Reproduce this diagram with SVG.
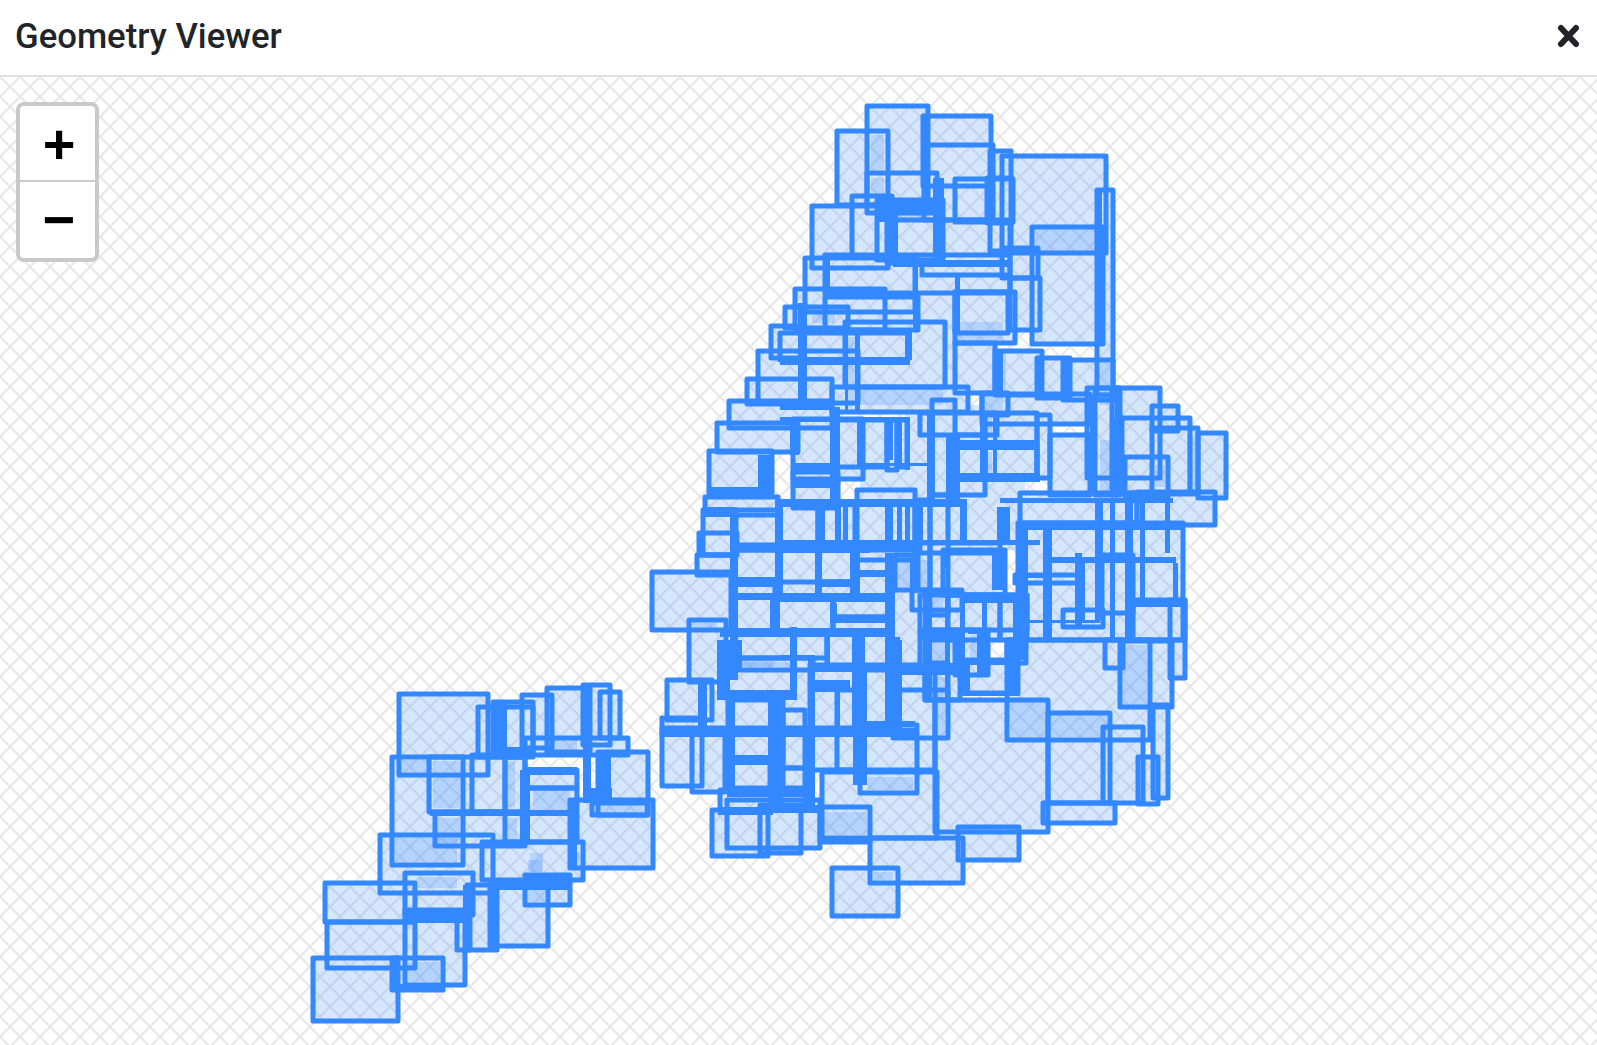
<svg xmlns="http://www.w3.org/2000/svg" width="1597" height="1045" viewBox="0 0 1597 1045">
<style>
.t{font-family:Roboto,"Liberation Sans",sans-serif;font-size:34.7px;font-weight:500;fill:#212529}
.z{font-family:"Liberation Sans",Arial,sans-serif;font-size:56px;font-weight:700;fill:#000;text-anchor:middle}
.o{fill:#3388ff;fill-opacity:.2}
</style>
<defs>
<pattern id="hatch" width="20" height="20" patternUnits="userSpaceOnUse" patternTransform="translate(0 76.7)">
<path d="M-2,-2L22,22M22,-2L-2,22" stroke="#e6e6e6" stroke-width="2" fill="none"/>
</pattern>
<g id="rects">
<rect x="867" y="106" width="61" height="99"/><rect x="837" y="131" width="51" height="74"/><rect x="923" y="116" width="68" height="70"/><rect x="924" y="145" width="69" height="75"/><rect x="990" y="151" width="21" height="100"/><rect x="1002" y="156" width="104" height="97"/><rect x="1097" y="190" width="16" height="205"/><rect x="1032" y="227" width="71" height="117"/><rect x="955" y="179" width="58" height="43"/><rect x="987" y="178" width="25" height="45"/><rect x="867" y="173" width="70" height="40"/><rect x="852" y="196" width="40" height="60"/><rect x="812" y="206" width="76" height="62"/><rect x="877" y="200" width="66" height="60"/><rect x="887" y="220" width="123" height="43"/><rect x="805" y="258" width="110" height="54"/><rect x="825" y="255" width="185" height="38"/><rect x="922" y="263" width="88" height="12"/><rect x="955" y="292" width="53" height="41"/><rect x="955" y="292" width="60" height="51"/><rect x="1002" y="248" width="36" height="30"/><rect x="1010" y="278" width="30" height="52"/><rect x="795" y="289" width="90" height="41"/><rect x="825" y="297" width="93" height="33"/><rect x="785" y="307" width="63" height="21"/><rect x="845" y="322" width="100" height="65"/><rect x="771" y="326" width="30" height="32"/><rect x="758" y="351" width="100" height="52"/><rect x="747" y="379" width="85" height="25"/><rect x="780" y="333" width="128" height="27"/><rect x="832" y="387" width="136" height="25"/><rect x="955" y="343" width="40" height="50"/><rect x="995" y="351" width="47" height="44"/><rect x="1037" y="358" width="33" height="40"/><rect x="1063" y="360" width="50" height="40"/><rect x="982" y="394" width="108" height="30"/><rect x="1087" y="388" width="73" height="90"/>
<rect x="729" y="401" width="103" height="27"/><rect x="717" y="423" width="81" height="29"/><rect x="709" y="451" width="63" height="44"/><rect x="705" y="497" width="73" height="13"/><rect x="793" y="419" width="70" height="60"/><rect x="836" y="420" width="51" height="47"/><rect x="887" y="420" width="10" height="50"/><rect x="897" y="420" width="10" height="47"/><rect x="793" y="472" width="45" height="11"/><rect x="793" y="483" width="45" height="25"/><rect x="920" y="413" width="77" height="22"/><rect x="932" y="400" width="23" height="95"/><rect x="955" y="435" width="30" height="60"/><rect x="982" y="393" width="26" height="22"/><rect x="985" y="413" width="52" height="65"/><rect x="985" y="443" width="52" height="35"/><rect x="1037" y="415" width="13" height="63"/><rect x="1050" y="435" width="40" height="60"/><rect x="1095" y="388" width="22" height="107"/><rect x="1112" y="388" width="8" height="107"/><rect x="1122" y="418" width="68" height="75"/><rect x="1152" y="406" width="26" height="25"/><rect x="1152" y="428" width="46" height="66"/><rect x="1198" y="433" width="28" height="65"/><rect x="1125" y="457" width="43" height="40"/><rect x="1137" y="492" width="78" height="33"/><rect x="1020" y="493" width="117" height="30"/><rect x="1018" y="523" width="165" height="117"/><rect x="1015" y="575" width="65" height="8"/><rect x="1133" y="600" width="52" height="40"/><rect x="1102" y="555" width="31" height="58"/><rect x="1063" y="610" width="40" height="17"/>
<rect x="652" y="572" width="79" height="58"/><rect x="689" y="620" width="37" height="62"/><rect x="697" y="555" width="38" height="20"/><rect x="699" y="533" width="38" height="22"/><rect x="703" y="510" width="33" height="45"/><rect x="733" y="515" width="47" height="65"/><rect x="780" y="503" width="38" height="47"/><rect x="780" y="550" width="75" height="32"/><rect x="733" y="582" width="42" height="15"/><rect x="775" y="597" width="58" height="35"/><rect x="833" y="597" width="57" height="20"/><rect x="833" y="617" width="57" height="15"/><rect x="818" y="503" width="37" height="47"/><rect x="857" y="490" width="58" height="70"/><rect x="733" y="545" width="182" height="5"/><rect x="733" y="550" width="47" height="32"/><rect x="818" y="550" width="37" height="32"/><rect x="818" y="582" width="37" height="15"/><rect x="733" y="632" width="60" height="26"/><rect x="793" y="632" width="34" height="26"/><rect x="827" y="632" width="33" height="36"/><rect x="860" y="632" width="30" height="38"/><rect x="895" y="555" width="23" height="35"/><rect x="912" y="590" width="50" height="20"/><rect x="915" y="500" width="15" height="90"/><rect x="930" y="495" width="18" height="120"/><rect x="943" y="550" width="62" height="45"/><rect x="920" y="543" width="80" height="10"/><rect x="920" y="595" width="107" height="35"/><rect x="948" y="595" width="52" height="45"/><rect x="1000" y="595" width="27" height="45"/><rect x="955" y="630" width="33" height="45"/><rect x="925" y="663" width="23" height="37"/><rect x="920" y="630" width="36" height="42"/><rect x="962" y="660" width="56" height="33"/><rect x="1007" y="640" width="19" height="23"/><rect x="925" y="640" width="35" height="60"/><rect x="735" y="658" width="78" height="12"/><rect x="810" y="665" width="125" height="105"/><rect x="837" y="690" width="20" height="80"/>
<rect x="667" y="680" width="45" height="40"/><rect x="662" y="718" width="40" height="68"/><rect x="692" y="730" width="33" height="62"/><rect x="720" y="790" width="85" height="20"/><rect x="712" y="810" width="56" height="46"/><rect x="760" y="805" width="41" height="48"/><rect x="727" y="800" width="93" height="48"/><rect x="820" y="807" width="50" height="35"/><rect x="870" y="838" width="93" height="45"/><rect x="832" y="868" width="66" height="48"/><rect x="860" y="725" width="57" height="68"/><rect x="822" y="772" width="115" height="66"/><rect x="893" y="690" width="55" height="48"/><rect x="728" y="700" width="55" height="60"/><rect x="728" y="760" width="42" height="28"/><rect x="783" y="710" width="22" height="58"/><rect x="783" y="768" width="22" height="20"/><rect x="662" y="728" width="235" height="6"/><rect x="935" y="700" width="113" height="132"/><rect x="1007" y="640" width="143" height="100"/><rect x="1048" y="713" width="62" height="90"/><rect x="1043" y="803" width="72" height="20"/><rect x="1103" y="727" width="40" height="76"/><rect x="1138" y="757" width="20" height="47"/><rect x="1153" y="705" width="15" height="93"/><rect x="1120" y="641" width="52" height="66"/><rect x="1105" y="640" width="18" height="28"/><rect x="1170" y="600" width="15" height="78"/><rect x="958" y="827" width="61" height="33"/>
<rect x="399" y="694" width="89" height="81"/><rect x="392" y="757" width="71" height="108"/><rect x="429" y="757" width="96" height="55"/><rect x="435" y="812" width="90" height="34"/><rect x="380" y="835" width="113" height="58"/><rect x="478" y="707" width="55" height="50"/><rect x="493" y="702" width="40" height="50"/><rect x="522" y="695" width="30" height="53"/><rect x="547" y="688" width="43" height="64"/><rect x="583" y="685" width="27" height="60"/><rect x="600" y="692" width="20" height="46"/><rect x="525" y="738" width="103" height="17"/><rect x="598" y="752" width="50" height="63"/><rect x="570" y="800" width="83" height="68"/><rect x="592" y="803" width="55" height="12"/><rect x="525" y="770" width="52" height="18"/><rect x="525" y="788" width="52" height="54"/><rect x="482" y="842" width="101" height="38"/><rect x="505" y="757" width="20" height="85"/><rect x="472" y="755" width="33" height="57"/><rect x="490" y="883" width="58" height="63"/><rect x="467" y="885" width="30" height="65"/><rect x="525" y="875" width="45" height="30"/><rect x="313" y="958" width="85" height="63"/><rect x="327" y="922" width="88" height="46"/><rect x="325" y="883" width="90" height="39"/><rect x="392" y="958" width="51" height="32"/><rect x="405" y="910" width="60" height="75"/><rect x="405" y="873" width="68" height="42"/><rect x="457" y="917" width="13" height="33"/>
</g>
</defs>
<rect width="1597" height="1045" fill="#fff"/>
<rect y="76" width="1597" height="969" fill="url(#hatch)"/>
<g id="header">
<rect y="0" width="1597" height="75" fill="#fff"/>
<rect y="75" width="1597" height="2" fill="#dee2e6"/>
<text class="t" x="15" y="48">Geometry Viewer</text>
<path d="M1561,28L1576,44M1576,28L1561,44" stroke="#212529" stroke-width="6" stroke-linecap="round" fill="none"/>
</g>
<g id="geometry">
<g fill="#3388ff" opacity=".2">
<use href="#rects"/>
<rect x="905" y="405" width="120" height="90"/><rect x="975" y="490" width="50" height="60"/><rect x="830" y="550" width="70" height="55"/><rect x="730" y="575" width="165" height="60"/><rect x="790" y="640" width="25" height="90"/><rect x="710" y="690" width="25" height="50"/><rect x="915" y="263" width="40" height="125"/><rect x="800" y="620" width="135" height="120"/><rect x="900" y="490" width="80" height="60"/><rect x="880" y="300" width="60" height="100"/><rect x="860" y="590" width="120" height="80"/><rect x="1010" y="490" width="30" height="40"/><rect x="720" y="640" width="90" height="170"/><rect x="860" y="465" width="50" height="30"/><rect x="780" y="500" width="140" height="50"/>
</g>
<g id="overlaps">
<rect class="o" x="871" y="135" width="13" height="35"/><rect class="o" x="871" y="178" width="13" height="17"/><rect class="o" x="1035" y="228" width="62" height="24"/><rect class="o" x="812" y="312" width="23" height="11"/><rect class="o" x="958" y="322" width="45" height="18"/><rect class="o" x="898" y="212" width="32" height="6"/><rect class="o" x="860" y="388" width="83" height="17"/><rect class="o" x="847" y="337" width="9" height="68"/><rect class="o" x="1100" y="363" width="10" height="42"/><rect class="o" x="998" y="353" width="8" height="37"/><rect class="o" x="895" y="557" width="15" height="30"/><rect class="o" x="920" y="560" width="7" height="30"/><rect class="o" x="928" y="643" width="17" height="20"/><rect class="o" x="742" y="662" width="48" height="5"/><rect class="o" x="693" y="623" width="24" height="5"/><rect class="o" x="985" y="397" width="18" height="13"/><rect class="o" x="985" y="418" width="7" height="15"/><rect class="o" x="985" y="452" width="7" height="21"/><rect class="o" x="1100" y="392" width="10" height="11"/><rect class="o" x="1100" y="440" width="10" height="53"/><rect class="o" x="1155" y="465" width="10" height="22"/><rect class="o" x="1187" y="435" width="8" height="58"/><rect class="o" x="1123" y="645" width="24" height="60"/><rect class="o" x="970" y="635" width="7" height="28"/><rect class="o" x="933" y="597" width="10" height="10"/><rect class="o" x="823" y="812" width="44" height="23"/><rect class="o" x="868" y="777" width="45" height="13"/><rect class="o" x="873" y="872" width="20" height="8"/><rect class="o" x="897" y="728" width="16" height="9"/><rect class="o" x="928" y="677" width="17" height="20"/><rect class="o" x="938" y="703" width="7" height="34"/><rect class="o" x="740" y="660" width="33" height="7"/><rect class="o" x="1010" y="702" width="35" height="36"/><rect class="o" x="1050" y="715" width="57" height="22"/><rect class="o" x="402" y="760" width="26" height="12"/><rect class="o" x="433" y="761" width="27" height="11"/><rect class="o" x="433" y="777" width="27" height="31"/><rect class="o" x="438" y="818" width="22" height="25"/><rect class="o" x="395" y="838" width="62" height="24"/><rect class="o" x="508" y="761" width="7" height="46"/><rect class="o" x="508" y="818" width="9" height="22"/><rect class="o" x="533" y="790" width="37" height="20"/><rect class="o" x="552" y="738" width="25" height="12"/><rect class="o" x="530" y="853" width="13" height="19"/><rect class="o" x="598" y="803" width="45" height="9"/><rect class="o" x="573" y="852" width="7" height="14"/><rect class="o" x="408" y="962" width="32" height="20"/><rect class="o" x="418" y="877" width="39" height="11"/><rect class="o" x="528" y="860" width="14" height="12"/><rect class="o" x="528" y="890" width="17" height="12"/>
</g>
<use href="#rects" fill="none" stroke="#3388ff" stroke-width="5" stroke-linejoin="round"/>
<g id="bands" fill="#3388ff">
<rect x="921" y="116" width="7" height="62"/><rect x="933" y="178" width="11" height="85"/><rect x="888" y="200" width="10" height="60"/><rect x="877" y="200" width="60" height="12"/><rect x="877" y="212" width="10" height="10"/><rect x="893" y="260" width="117" height="7"/><rect x="955" y="275" width="5" height="57"/><rect x="913" y="267" width="5" height="63"/><rect x="825" y="258" width="5" height="39"/><rect x="798" y="303" width="9" height="97"/><rect x="905" y="330" width="7" height="30"/><rect x="780" y="357" width="130" height="8"/><rect x="780" y="400" width="53" height="10"/><rect x="845" y="335" width="3" height="75"/><rect x="855" y="335" width="5" height="75"/><rect x="997" y="353" width="6" height="42"/><rect x="1037" y="358" width="6" height="42"/><rect x="1064" y="358" width="6" height="42"/><rect x="1097" y="190" width="5" height="155"/><rect x="985" y="218" width="28" height="5"/><rect x="1002" y="248" width="38" height="7"/>
<rect x="730" y="510" width="8" height="170"/><rect x="775" y="500" width="8" height="97"/><rect x="758" y="455" width="14" height="38"/><rect x="708" y="487" width="65" height="8"/><rect x="703" y="507" width="34" height="10"/><rect x="737" y="577" width="40" height="10"/><rect x="737" y="593" width="153" height="7"/><rect x="770" y="597" width="10" height="33"/><rect x="720" y="628" width="170" height="9"/><rect x="790" y="420" width="10" height="32"/>
<rect x="790" y="417" width="9" height="38"/><rect x="830" y="407" width="10" height="93"/><rect x="857" y="420" width="8" height="47"/><rect x="885" y="420" width="8" height="40"/><rect x="897" y="420" width="5" height="45"/><rect x="905" y="420" width="5" height="50"/><rect x="927" y="413" width="8" height="87"/><rect x="946" y="433" width="14" height="70"/><rect x="980" y="417" width="5" height="65"/><rect x="993" y="413" width="4" height="60"/><rect x="780" y="417" width="130" height="5"/><rect x="795" y="463" width="43" height="8"/><rect x="793" y="479" width="47" height="9"/><rect x="780" y="499" width="187" height="8"/><rect x="947" y="440" width="87" height="10"/><rect x="960" y="473" width="80" height="9"/><rect x="863" y="463" width="64" height="3"/><rect x="818" y="507" width="7" height="33"/><rect x="835" y="507" width="6" height="33"/><rect x="843" y="507" width="5" height="33"/><rect x="885" y="507" width="8" height="33"/><rect x="897" y="507" width="5" height="33"/><rect x="905" y="507" width="5" height="33"/><rect x="913" y="507" width="10" height="33"/><rect x="960" y="507" width="7" height="33"/><rect x="997" y="507" width="13" height="33"/><rect x="780" y="540" width="260" height="5"/><rect x="780" y="548" width="90" height="5"/><rect x="815" y="553" width="7" height="44"/><rect x="850" y="553" width="10" height="44"/><rect x="885" y="553" width="10" height="174"/><rect x="910" y="553" width="10" height="37"/><rect x="928" y="553" width="4" height="15"/><rect x="943" y="553" width="7" height="15"/><rect x="992" y="553" width="15" height="37"/>
<rect x="822" y="580" width="28" height="7"/><rect x="860" y="570" width="25" height="7"/><rect x="780" y="593" width="107" height="9"/><rect x="830" y="603" width="7" height="20"/><rect x="832" y="615" width="53" height="8"/><rect x="780" y="630" width="105" height="7"/><rect x="923" y="592" width="40" height="5"/><rect x="923" y="592" width="9" height="108"/><rect x="945" y="592" width="5" height="108"/><rect x="912" y="608" width="33" height="4"/><rect x="893" y="663" width="63" height="12"/><rect x="960" y="593" width="5" height="100"/><rect x="982" y="593" width="5" height="40"/><rect x="960" y="593" width="65" height="10"/><rect x="1017" y="593" width="8" height="67"/><rect x="968" y="630" width="20" height="4"/><rect x="955" y="630" width="8" height="47"/><rect x="1007" y="638" width="13" height="55"/><rect x="963" y="693" width="57" height="3"/><rect x="790" y="627" width="7" height="33"/><rect x="808" y="657" width="7" height="70"/><rect x="780" y="655" width="35" height="4"/><rect x="815" y="663" width="35" height="8"/><rect x="852" y="637" width="13" height="90"/><rect x="815" y="680" width="35" height="12"/><rect x="835" y="688" width="5" height="38"/><rect x="885" y="637" width="15" height="90"/><rect x="825" y="637" width="5" height="26"/><rect x="863" y="721" width="52" height="5"/>
<rect x="1043" y="530" width="9" height="110"/><rect x="1075" y="560" width="10" height="60"/><rect x="1095" y="503" width="8" height="117"/><rect x="1110" y="503" width="5" height="137"/><rect x="1125" y="503" width="8" height="137"/><rect x="1140" y="503" width="5" height="95"/><rect x="1165" y="503" width="5" height="50"/><rect x="1173" y="563" width="5" height="37"/><rect x="1020" y="525" width="163" height="5"/><rect x="1043" y="557" width="133" height="6"/><rect x="1133" y="600" width="52" height="7"/><rect x="1017" y="620" width="83" height="3"/><rect x="1000" y="498" width="173" height="5"/><rect x="1013" y="575" width="34" height="3"/><rect x="1013" y="581" width="34" height="3"/><rect x="1020" y="530" width="8" height="70"/><rect x="1013" y="593" width="12" height="47"/><rect x="1090" y="395" width="5" height="100"/><rect x="1113" y="418" width="10" height="75"/><rect x="1075" y="553" width="7" height="74"/>
<rect x="717" y="640" width="13" height="53"/><rect x="733" y="640" width="9" height="30"/><rect x="790" y="640" width="7" height="60"/><rect x="768" y="690" width="15" height="117"/><rect x="727" y="693" width="8" height="104"/><rect x="717" y="690" width="80" height="10"/><rect x="735" y="755" width="33" height="10"/><rect x="727" y="787" width="80" height="10"/><rect x="662" y="728" width="255" height="9"/><rect x="803" y="735" width="7" height="75"/><rect x="808" y="657" width="7" height="150"/><rect x="853" y="665" width="14" height="120"/><rect x="885" y="640" width="17" height="93"/><rect x="808" y="663" width="142" height="9"/><rect x="698" y="683" width="9" height="47"/><rect x="718" y="807" width="55" height="8"/><rect x="758" y="805" width="65" height="8"/><rect x="955" y="630" width="8" height="45"/><rect x="977" y="630" width="13" height="45"/><rect x="960" y="660" width="10" height="33"/><rect x="962" y="658" width="58" height="7"/><rect x="920" y="630" width="37" height="10"/>
<rect x="495" y="702" width="12" height="55"/><rect x="520" y="770" width="10" height="73"/><rect x="583" y="685" width="8" height="115"/><rect x="600" y="750" width="11" height="50"/><rect x="583" y="788" width="29" height="15"/><rect x="568" y="800" width="9" height="67"/><rect x="430" y="810" width="147" height="6"/><rect x="523" y="767" width="54" height="8"/><rect x="493" y="747" width="40" height="11"/><rect x="490" y="882" width="80" height="8"/><rect x="405" y="908" width="62" height="15"/><rect x="463" y="885" width="9" height="65"/><rect x="488" y="885" width="9" height="65"/><rect x="392" y="958" width="8" height="32"/><rect x="392" y="984" width="51" height="6"/><rect x="527" y="873" width="40" height="9"/>
</g>
</g>
<g id="zoom-control">
<rect x="18" y="104" width="79" height="156" rx="6" fill="#fff" stroke="#c9c9c9" stroke-width="4"/>
<rect x="20" y="180" width="75" height="2" fill="#ccc"/>
<text class="z" x="59" y="163">+</text>
<text class="z" x="59" y="239">−</text>
</g>
</svg>
